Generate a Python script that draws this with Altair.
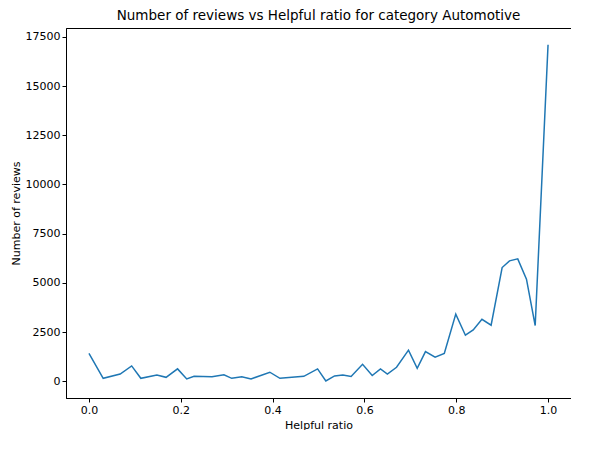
import altair as alt
import pandas as pd

ratio = [0.0, 0.031, 0.068, 0.093, 0.113, 0.148, 0.168, 0.193, 0.213, 0.229,
         0.268, 0.294, 0.311, 0.333, 0.353, 0.394, 0.416, 0.468, 0.498, 0.516,
         0.535, 0.553, 0.571, 0.596, 0.617, 0.635, 0.650, 0.670, 0.696, 0.715,
         0.733, 0.754, 0.774, 0.799, 0.820, 0.837, 0.856, 0.876, 0.900, 0.916,
         0.934, 0.953, 0.972, 1.0]
reviews = [1420, 150, 370, 780, 150, 320, 200, 630, 120, 250,
           230, 330, 150, 230, 120, 460, 150, 250, 630, 15,
           270, 320, 240, 860, 290, 630, 370, 710, 1580, 660,
           1510, 1220, 1410, 3410, 2340, 2610, 3150, 2850, 5780, 6120,
           6220, 5190, 2830, 17100]

df = pd.DataFrame({"ratio": ratio, "reviews": reviews})

chart = alt.Chart(df).mark_line(color="#1f77b4", strokeWidth=1.5, clip=True).encode(
    x=alt.X("ratio:Q", title="Helpful ratio",
            scale=alt.Scale(domain=[-0.05, 1.05], nice=False, zero=False),
            axis=alt.Axis(values=[0, 0.2, 0.4, 0.6, 0.8, 1.0], format=".1f")),
    y=alt.Y("reviews:Q", title="Number of reviews",
            scale=alt.Scale(domain=[-850, 17950], nice=False),
            axis=alt.Axis(values=[0, 2500, 5000, 7500, 10000, 12500, 15000, 17500],
                          format="d"))
).properties(
    width=505, height=370,
    padding={"left": 2, "top": 0, "right": 0, "bottom": 0},
    title=alt.TitleParams("Number of reviews vs Helpful ratio for category Automotive",
                          fontSize=13.5, fontWeight="normal", font="DejaVu Sans", offset=6)
).configure_axis(
    grid=False, labelFont="DejaVu Sans", titleFont="DejaVu Sans", labelFontSize=11,
    titleFontSize=11, titleFontWeight="normal", labelColor="black", titleColor="black",
    domainColor="black", tickColor="black", tickSize=4
).configure_view(stroke="black", strokeWidth=1)

chart.save("out.html", embed_options={"renderer": "svg", "actions": False})
